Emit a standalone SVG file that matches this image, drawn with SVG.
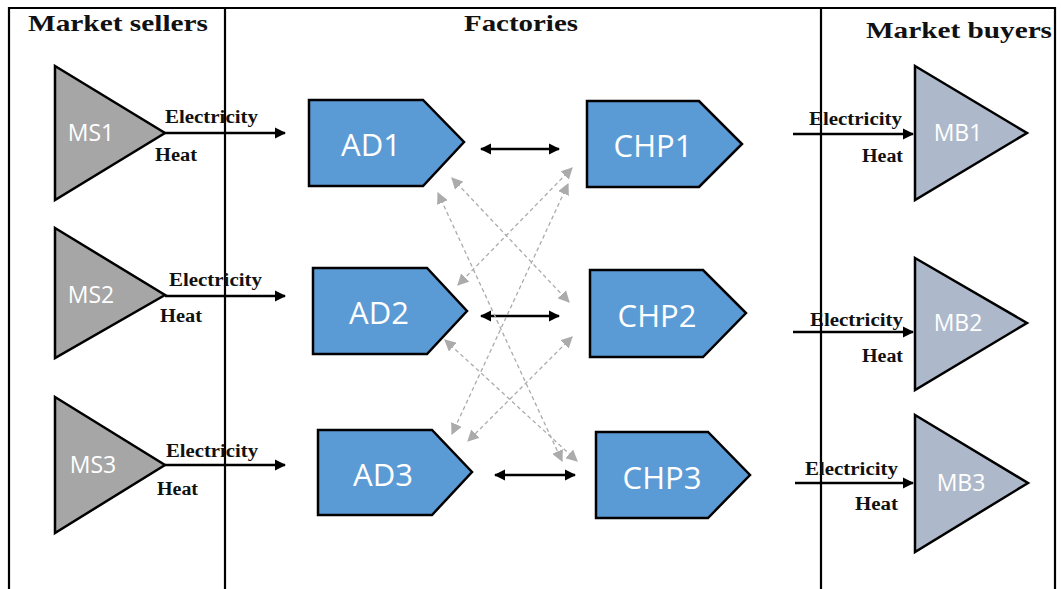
<svg xmlns="http://www.w3.org/2000/svg" width="1061" height="589" viewBox="0 0 1061 589">
<defs>
<style>
.frame{stroke:#000;stroke-width:2.2;fill:none}
.title{font-family:"Liberation Serif",serif;font-weight:bold;font-size:24px;fill:#111}
.lbl{font-family:"Liberation Serif",serif;font-weight:bold;font-size:18px;fill:#111}
.ms{fill:#A6A6A6;stroke:#000;stroke-width:2.5}
.mb{fill:#ADB9CA;stroke:#000;stroke-width:2.5}
.fac{fill:#5B9BD5;stroke:#000;stroke-width:2.5}
.ntxt{font-family:"Open Sans","Liberation Sans",sans-serif;fill:#fff;text-anchor:middle}
.big{font-size:31px}
.small{font-size:23px}
.flow{stroke:#000;stroke-width:2.5;fill:none}
.dash{stroke:#ABABAB;stroke-width:1.3;stroke-dasharray:4 3;fill:none}
</style>
<marker id="ah" viewBox="0 0 10 10" refX="9" refY="5" markerWidth="4.5" markerHeight="4.5" orient="auto-start-reverse" markerUnits="strokeWidth">
<path d="M0,0 L10,5 L0,10 z" fill="#000"/>
</marker>
<marker id="gh" viewBox="0 0 10 10" refX="9" refY="5" markerWidth="9" markerHeight="9" orient="auto-start-reverse" markerUnits="strokeWidth">
<path d="M0,0 L10,5 L0,10 z" fill="#ABABAB"/>
</marker>
</defs>

<g id="frame">
<path class="frame" d="M9,589 V8 H1055 V589"/>
<line class="frame" x1="225" y1="8" x2="225" y2="589"/>
<line class="frame" x1="821" y1="8" x2="821" y2="589"/>
<text class="title" x="28" y="31" textLength="180" lengthAdjust="spacingAndGlyphs">Market sellers</text>
<text class="title" x="464" y="31" textLength="114" lengthAdjust="spacingAndGlyphs">Factories</text>
<text class="title" x="866" y="38" textLength="186" lengthAdjust="spacingAndGlyphs">Market buyers</text>
</g>

<g id="connectors">
<line class="flow" x1="165" y1="133" x2="285" y2="133" marker-end="url(#ah)"/>
<line class="flow" x1="165" y1="296" x2="285" y2="296" marker-end="url(#ah)"/>
<line class="flow" x1="165" y1="465" x2="285" y2="465" marker-end="url(#ah)"/>
<line class="flow" x1="793" y1="134" x2="913" y2="134" marker-end="url(#ah)"/>
<line class="flow" x1="793" y1="332" x2="913" y2="332" marker-end="url(#ah)"/>
<line class="flow" x1="795" y1="483" x2="913" y2="483" marker-end="url(#ah)"/>
<line class="flow" x1="481" y1="149" x2="559" y2="149" marker-start="url(#ah)" marker-end="url(#ah)"/>
<line class="flow" x1="481" y1="316" x2="559" y2="316" marker-start="url(#ah)" marker-end="url(#ah)"/>
<line class="flow" x1="495" y1="475" x2="575" y2="475" marker-start="url(#ah)" marker-end="url(#ah)"/>
<line class="dash" x1="452" y1="178" x2="569" y2="302" marker-start="url(#gh)" marker-end="url(#gh)"/>
<line class="dash" x1="438" y1="193" x2="562" y2="461" marker-start="url(#gh)" marker-end="url(#gh)"/>
<line class="dash" x1="572" y1="168" x2="458" y2="285" marker-start="url(#gh)" marker-end="url(#gh)"/>
<line class="dash" x1="568" y1="184" x2="452" y2="434" marker-start="url(#gh)" marker-end="url(#gh)"/>
<line class="dash" x1="445" y1="340" x2="577" y2="461" marker-start="url(#gh)" marker-end="url(#gh)"/>
<line class="dash" x1="572" y1="337" x2="468" y2="441" marker-start="url(#gh)" marker-end="url(#gh)"/>
<text class="lbl" x="165" y="123" textLength="93" lengthAdjust="spacingAndGlyphs">Electricity</text>
<text class="lbl" x="155" y="161" textLength="42" lengthAdjust="spacingAndGlyphs">Heat</text>
<text class="lbl" x="169" y="286" textLength="93" lengthAdjust="spacingAndGlyphs">Electricity</text>
<text class="lbl" x="160" y="322" textLength="42" lengthAdjust="spacingAndGlyphs">Heat</text>
<text class="lbl" x="166" y="457" textLength="92" lengthAdjust="spacingAndGlyphs">Electricity</text>
<text class="lbl" x="157" y="495" textLength="41" lengthAdjust="spacingAndGlyphs">Heat</text>
<text class="lbl" x="809" y="125" textLength="93" lengthAdjust="spacingAndGlyphs">Electricity</text>
<text class="lbl" x="862" y="162" textLength="41" lengthAdjust="spacingAndGlyphs">Heat</text>
<text class="lbl" x="810" y="326" textLength="93" lengthAdjust="spacingAndGlyphs">Electricity</text>
<text class="lbl" x="862" y="362" textLength="41" lengthAdjust="spacingAndGlyphs">Heat</text>
<text class="lbl" x="805" y="475" textLength="93" lengthAdjust="spacingAndGlyphs">Electricity</text>
<text class="lbl" x="855" y="510" textLength="43" lengthAdjust="spacingAndGlyphs">Heat</text>
</g>

<g id="MS1"><polygon class="ms" points="55,66 165,133 55,200"/><text class="ntxt small" x="91" y="141">MS1</text></g>
<g id="MS2"><polygon class="ms" points="55,228 165,295 55,358"/><text class="ntxt small" x="91" y="303">MS2</text></g>
<g id="MS3"><polygon class="ms" points="55,397 165,465 55,533"/><text class="ntxt small" x="93" y="473">MS3</text></g>

<g id="AD1"><polygon class="fac" points="309,100 423,100 464,142 423,186 309,186"/><text class="ntxt big" x="371" y="156">AD1</text></g>
<g id="AD2"><polygon class="fac" points="313,268 427,268 467,311 427,354 313,354"/><text class="ntxt big" x="379" y="324">AD2</text></g>
<g id="AD3"><polygon class="fac" points="318,430 432,430 472,472 432,515 318,515"/><text class="ntxt big" x="383" y="486">AD3</text></g>

<g id="CHP1"><polygon class="fac" points="587,101 699,101 742,144 699,187 587,187"/><text class="ntxt big" x="653" y="157">CHP1</text></g>
<g id="CHP2"><polygon class="fac" points="590,270 703,270 746,313 703,357 590,357"/><text class="ntxt big" x="657" y="327">CHP2</text></g>
<g id="CHP3"><polygon class="fac" points="596,432 708,432 750,475 708,518 596,518"/><text class="ntxt big" x="662" y="489">CHP3</text></g>

<g id="MB1"><polygon class="mb" points="915,66 1027,133 915,200"/><text class="ntxt small" x="958" y="141">MB1</text></g>
<g id="MB2"><polygon class="mb" points="915,258 1027,323 915,390"/><text class="ntxt small" x="958" y="331">MB2</text></g>
<g id="MB3"><polygon class="mb" points="915,415 1028,483 915,552"/><text class="ntxt small" x="961" y="491">MB3</text></g>
</svg>
